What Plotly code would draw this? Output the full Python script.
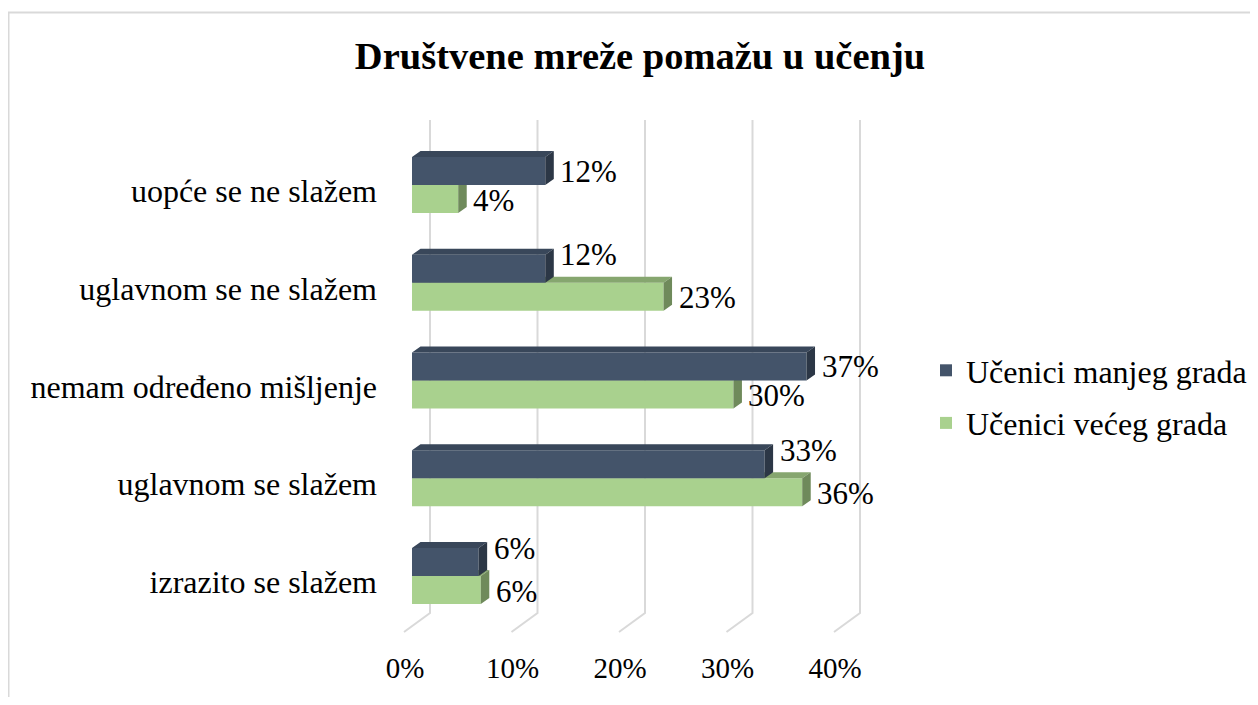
import plotly.graph_objects as go

categories = ["uopće se ne slažem", "uglavnom se ne slažem", "nemam određeno mišljenje",
              "uglavnom se slažem", "izrazito se slažem"]
manji_grad = [12.4, 12.4, 36.7, 32.8, 6.2]
veci_grad = [4.3, 23.4, 29.9, 36.3, 6.4]
x_ticks = [0, 10, 20, 30, 40]
series_names = ["Učenici manjeg grada", "Učenici većeg grada"]
title = "Društvene mreže pomažu u učenju"

FONT = "Liberation Serif"
# the page body has an 8px margin on every side; keep the figure inside the window
PAGE = 8
W, H = 1258 - 2 * PAGE, 705 - 2 * PAGE
L, T = 380, 110                          # plot area top-left in window pixels
R, B = 1258 - PAGE - 900, 705 - PAGE - 640  # plot area ends at 900, 640
PW, PH = 900 - L, 640 - T
PX_X, PX_Y = 10.75, 97.75     # pixels per percent / per category
X0_PX, Y0_PX = 412, 185       # where 0 % and the first category sit

x_range = [-(X0_PX - L) / PX_X, (900 - X0_PX) / PX_X]
y_range = [(640 - Y0_PX) / PX_Y, -(Y0_PX - T) / PX_Y]

BW = 28 / PX_Y                 # bar thickness
DX, DY = 8.5 / PX_X, 6 / PX_Y  # bar depth
WALL_DX, FRONT_DX = 18 / PX_X, -8 / PX_X
Y_TOP = (120 - Y0_PX) / PX_Y
Y_FLOOR_BACK = (613 - Y0_PX) / PX_Y
Y_FLOOR_FRONT = (632 - Y0_PX) / PX_Y


def px_to_paper(px, py):
    return (px - L) / PW, 1 - (py - T) / PH


def faces(vals, off, yaxis, top_c, side_c, group):
    xt, yt, xs, ys = [], [], [], []
    for i, v in enumerate(vals):
        y0 = i + off
        y1 = y0 + BW
        xt += [0, v, v + DX, DX, 0, None]
        yt += [y0, y0, y0 - DY, y0 - DY, y0, None]
        xs += [v, v + DX, v + DX, v, v, None]
        ys += [y0, y0 - DY, y1 - DY, y1, y0, None]
    common = dict(fill="toself", mode="lines", line=dict(width=0), yaxis=yaxis,
                  showlegend=False, hoverinfo="skip", legendgroup=group)
    return [go.Scatter(x=xt, y=yt, fillcolor=top_c, **common),
            go.Scatter(x=xs, y=ys, fillcolor=side_c, **common)]


fig = go.Figure()

# green series on the main subplot, dark one on an overlay so it sits on top
fig.add_trace(go.Bar(y=list(range(len(categories))), x=veci_grad, orientation="h",
                     name=series_names[1], marker=dict(color="#A9D18E", line=dict(width=0)),
                     offset=0, width=BW, legendrank=2, legendgroup="veci", hoverinfo="skip"))
for tr in faces(veci_grad, 0, "y", "#86A66F", "#6F8A5B", "veci"):
    fig.add_trace(tr)

fig.add_trace(go.Bar(y=list(range(len(categories))), x=manji_grad, orientation="h",
                     name=series_names[0], marker=dict(color="#44546A", line=dict(width=0)),
                     offset=-BW, width=BW, yaxis="y2", legendrank=1, legendgroup="manji",
                     hoverinfo="skip"))
for tr in faces(manji_grad, -BW, "y2", "#39475A", "#2C3746", "manji"):
    fig.add_trace(tr)

# back wall + floor gridlines
shapes = []
for t in x_ticks:
    path = "M {},{} L {},{} L {},{}".format(t + WALL_DX, Y_TOP, t + WALL_DX, Y_FLOOR_BACK,
                                             t + FRONT_DX, Y_FLOOR_FRONT)
    shapes.append(dict(type="path", path=path, xref="x", yref="y", layer="below",
                       line=dict(color="#D9D9D9", width=2)))

# chart border
bx0, by0 = px_to_paper(8.5, 12.5)
bx1, by1 = px_to_paper(1262, 712)
shapes.append(dict(type="rect", xref="paper", yref="paper", x0=bx0, y0=by0, x1=bx1, y1=by1,
                   line=dict(color="#D9D9D9", width=2)))

annotations = []
for i, (a, b) in enumerate(zip(manji_grad, veci_grad)):
    annotations.append(dict(x=a, y=i - BW / 2, xref="x", yref="y", text=f"{round(a)}%",
                            showarrow=False, xanchor="left", xshift=13,
                            yshift=14 if b > a else 0,
                            font=dict(family=FONT, size=31, color="#000000")))
    annotations.append(dict(x=b, y=i + BW / 2, xref="x", yref="y", text=f"{round(b)}%",
                            showarrow=False, xanchor="left", xshift=13, yshift=-1,
                            font=dict(family=FONT, size=31, color="#000000")))

lx, ly = px_to_paper(926, 343)

fig.update_layout(
    width=W, height=H,
    margin=dict(l=L - PAGE, r=R, t=T - PAGE, b=B, autoexpand=False),
    paper_bgcolor="white", plot_bgcolor="white",
    barmode="overlay",
    title=dict(text=f"<b>{title}</b>", x=(640 - PAGE) / W, y=1 - (56 - PAGE) / H,
               xanchor="center", yanchor="middle",
               font=dict(family=FONT, size=38.5, color="#000000")),
    xaxis=dict(range=x_range, tickvals=x_ticks, ticktext=[f"{t}%" for t in x_ticks],
               showgrid=False, zeroline=False, showline=False, ticks="",
               ticklabelshift=-7, ticklabelstandoff=8,
               tickfont=dict(family=FONT, size=29, color="#000000")),
    yaxis=dict(range=y_range, tickvals=list(range(len(categories))), ticktext=categories,
               showgrid=False, zeroline=False, showline=False, ticks="",
               ticklabelshift=-6, ticklabelstandoff=2,
               tickfont=dict(family=FONT, size=32, color="#000000")),
    yaxis2=dict(range=y_range, overlaying="y", showgrid=False, zeroline=False,
                showline=False, showticklabels=False),
    legend=dict(x=lx, y=ly, xanchor="left", yanchor="top", traceorder="grouped",
                tracegroupgap=8, bgcolor="rgba(0,0,0,0)",
                font=dict(family=FONT, size=32, color="#000000")),
    shapes=shapes,
    annotations=annotations,
)

fig.write_html("out.html")
